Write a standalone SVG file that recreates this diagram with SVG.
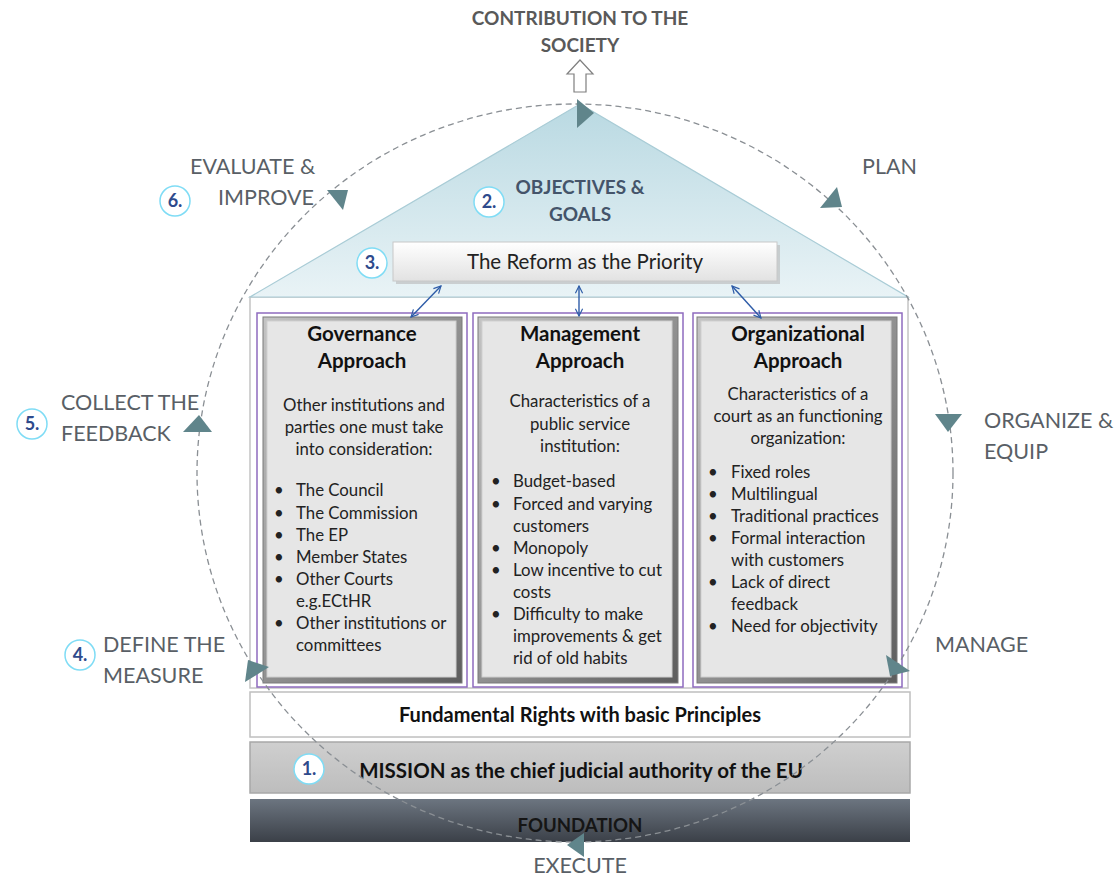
<svg xmlns="http://www.w3.org/2000/svg" width="1118" height="877" viewBox="0 0 1118 877">
<defs>
<linearGradient id="roofG" x1="0" y1="0" x2="0" y2="1"><stop offset="0" stop-color="#b9d9e2"/><stop offset="1" stop-color="#e9f3f6"/></linearGradient>
<linearGradient id="reformG" x1="0" y1="0" x2="0" y2="1"><stop offset="0" stop-color="#ffffff"/><stop offset="1" stop-color="#e2e2e2"/></linearGradient>
<linearGradient id="missionG" x1="0" y1="0" x2="0" y2="1"><stop offset="0" stop-color="#cfcfcf"/><stop offset="1" stop-color="#bdbdbd"/></linearGradient>
<linearGradient id="foundG" x1="0" y1="0" x2="0" y2="1"><stop offset="0" stop-color="#6c7580"/><stop offset="1" stop-color="#3b4048"/></linearGradient>
<linearGradient id="bevelG" x1="0" y1="0" x2="1" y2="1"><stop offset="0" stop-color="#c4c4c4"/><stop offset="1" stop-color="#5e5e5e"/></linearGradient>
<marker id="ah" viewBox="0 0 10 10" refX="9" refY="5" markerWidth="9" markerHeight="9" orient="auto-start-reverse" markerUnits="userSpaceOnUse"><path d="M1,1 L9,5 L1,9" fill="none" stroke="#2e5ca8" stroke-width="1.3"/></marker>
<style>
.lbl{font-family:Lato,"Open Sans",sans-serif;font-size:21.5px;fill:#595f66}
.ttl{font-family:Lato,"Open Sans",sans-serif;font-size:19px;font-weight:bold;fill:#44546a;text-anchor:middle}
.ctit{font-family:Lato,"Open Sans",sans-serif;font-size:20.5px;font-weight:bold;fill:#111;text-anchor:middle}
.cdesc{font-family:Lato,"Open Sans",sans-serif;font-size:16.8px;fill:#222;text-anchor:middle}
.bul{font-family:Lato,"Open Sans",sans-serif;font-size:16.8px;fill:#222}
.bar{font-family:Lato,"Open Sans",sans-serif;font-size:20.5px;font-weight:bold;fill:#111;text-anchor:middle}
.num{font-family:Lato,"Open Sans",sans-serif;font-size:18px;font-weight:bold;fill:#2e4a8c;text-anchor:middle}
.badge{fill:#fff;stroke:#7fdcf5;stroke-width:1.5}
.purple{fill:none;stroke:#8e6bbf;stroke-width:1.5}
.bevel{fill:url(#bevelG);stroke:#7a7a7a;stroke-width:1}
.inner{fill:#e6e6e6;stroke:#cfcfcf;stroke-width:1}
.tri{fill:#60858b}
.conn{stroke:#2e5ca8;stroke-width:1.4;fill:none;marker-start:url(#ah);marker-end:url(#ah)}
</style>
</defs>
<rect width="1118" height="877" fill="#fff"/>

<g id="contribution">
<text class="ttl" x="580" y="25" style="fill:#595959">CONTRIBUTION TO THE</text>
<text class="ttl" x="580" y="52" style="fill:#595959">SOCIETY</text>
<polygon points="580,60 593,74 586,74 586,92 574,92 574,74 567,74" fill="#fff" stroke="#7f7f7f" stroke-width="1.2"/>
</g>

<g id="building">
<rect x="250" y="297" width="658" height="391" fill="#fff" stroke="#c4c4c4" stroke-width="1.5"/>
</g>

<g id="roof">
<polygon points="580,104 250,297 908,297" fill="url(#roofG)" stroke="#a9ccd6" stroke-width="1.2"/>
<text class="ttl" x="580" y="194">OBJECTIVES &amp;</text>
<text class="ttl" x="580" y="221">GOALS</text>
<circle class="badge" cx="489" cy="202" r="15"/>
<text class="num" x="489" y="208">2.</text>
</g>

<g id="reform">
<rect x="396" y="245" width="384" height="39" fill="#b8b8b8" opacity="0.6"/>
<rect x="393" y="242" width="384" height="39" fill="url(#reformG)" stroke="#c8c8c8" stroke-width="1"/>
<text x="585" y="269" style="font-family:Lato,'Open Sans',sans-serif;font-size:20.5px;fill:#222;text-anchor:middle">The Reform as the Priority</text>
<circle class="badge" cx="372" cy="263" r="15"/>
<text class="num" x="372" y="269">3.</text>
</g>

<g id="governance">
<rect class="purple" x="257" y="313" width="210" height="374"/>
<rect class="bevel" x="263" y="317" width="199" height="366"/>
<rect class="inner" x="267" y="321" width="189" height="356"/>
<text class="ctit" x="362" y="341">Governance</text>
<text class="ctit" x="362" y="368">Approach</text>
<text class="cdesc" x="364" y="411">Other institutions and</text>
<text class="cdesc" x="364" y="433">parties one must take</text>
<text class="cdesc" x="364" y="455">into consideration:</text>
<g class="bul">
<text x="274" y="496">•</text><text x="296" y="496">The Council</text>
<text x="274" y="519">•</text><text x="296" y="519">The Commission</text>
<text x="274" y="541">•</text><text x="296" y="541">The EP</text>
<text x="274" y="563">•</text><text x="296" y="563">Member States</text>
<text x="274" y="585">•</text><text x="296" y="585">Other Courts</text>
<text x="296" y="607">e.g.ECtHR</text>
<text x="274" y="629">•</text><text x="296" y="629">Other institutions or</text>
<text x="296" y="651">committees</text>
</g>
</g>

<g id="management">
<rect class="purple" x="473" y="313" width="210" height="374"/>
<rect class="bevel" x="478" y="317" width="200" height="366"/>
<rect class="inner" x="482" y="321" width="190" height="356"/>
<text class="ctit" x="580" y="341">Management</text>
<text class="ctit" x="580" y="368">Approach</text>
<text class="cdesc" x="580" y="407">Characteristics of a</text>
<text class="cdesc" x="580" y="430">public service</text>
<text class="cdesc" x="580" y="452">institution:</text>
<g class="bul">
<text x="491" y="487">•</text><text x="513" y="487">Budget-based</text>
<text x="491" y="510">•</text><text x="513" y="510">Forced and varying</text>
<text x="513" y="532">customers</text>
<text x="491" y="554">•</text><text x="513" y="554">Monopoly</text>
<text x="491" y="576">•</text><text x="513" y="576">Low incentive to cut</text>
<text x="513" y="598">costs</text>
<text x="491" y="620">•</text><text x="513" y="620">Difficulty to make</text>
<text x="513" y="642">improvements &amp; get</text>
<text x="513" y="664">rid of old habits</text>
</g>
</g>

<g id="organizational">
<rect class="purple" x="693" y="313" width="209" height="374"/>
<rect class="bevel" x="697" y="317" width="200" height="366"/>
<rect class="inner" x="701" y="321" width="190" height="356"/>
<text class="ctit" x="798" y="341">Organizational</text>
<text class="ctit" x="798" y="368">Approach</text>
<text class="cdesc" x="798" y="400">Characteristics of a</text>
<text class="cdesc" x="798" y="422">court as an functioning</text>
<text class="cdesc" x="798" y="444">organization:</text>
<g class="bul">
<text x="708" y="478">•</text><text x="731" y="478">Fixed roles</text>
<text x="708" y="500">•</text><text x="731" y="500">Multilingual</text>
<text x="708" y="522">•</text><text x="731" y="522">Traditional practices</text>
<text x="708" y="544">•</text><text x="731" y="544">Formal interaction</text>
<text x="731" y="566">with customers</text>
<text x="708" y="588">•</text><text x="731" y="588">Lack of direct</text>
<text x="731" y="610">feedback</text>
<text x="708" y="632">•</text><text x="731" y="632">Need for objectivity</text>
</g>
</g>

<g id="fundamental">
<rect x="250" y="692" width="660" height="45" fill="#fff" stroke="#bfbfbf" stroke-width="1.5"/>
<text class="bar" x="580" y="722" style="font-size:20px">Fundamental Rights with basic Principles</text>
</g>

<g id="mission">
<rect x="250" y="742" width="660" height="51" fill="url(#missionG)" stroke="#a8a8a8" stroke-width="1.5"/>
<text class="bar" x="581" y="778">MISSION as the chief judicial authority of the EU</text>
<circle class="badge" cx="309" cy="769" r="15"/>
<text class="num" x="309" y="775">1.</text>
</g>

<g id="foundation">
<rect x="250" y="799" width="660" height="43" fill="url(#foundG)"/>
<text class="bar" x="580" y="832" style="fill:#151515;font-size:18.6px">FOUNDATION</text>
</g>

<g id="cycle-labels">
<text class="lbl" x="190" y="174">EVALUATE &amp;</text>
<text class="lbl" x="218" y="205">IMPROVE</text>
<circle class="badge" cx="175" cy="201" r="15"/>
<text class="num" x="175" y="207">6.</text>
<text class="lbl" x="862" y="174">PLAN</text>
<text class="lbl" x="61" y="410">COLLECT THE</text>
<text class="lbl" x="61" y="441">FEEDBACK</text>
<circle class="badge" cx="32" cy="424" r="15"/>
<text class="num" x="32" y="430">5.</text>
<text class="lbl" x="984" y="428">ORGANIZE &amp;</text>
<text class="lbl" x="984" y="459">EQUIP</text>
<text class="lbl" x="103" y="652">DEFINE THE</text>
<text class="lbl" x="103" y="683">MEASURE</text>
<circle class="badge" cx="80" cy="655" r="15"/>
<text class="num" x="80" y="661">4.</text>
<text class="lbl" x="935" y="652">MANAGE</text>
<text class="lbl" x="580" y="873" text-anchor="middle">EXECUTE</text>
</g>

<g id="connectors">
<ellipse cx="575" cy="473" rx="378" ry="369" fill="none" stroke="#8a8f94" stroke-width="1.3" stroke-dasharray="6 4"/>
<polygon class="tri" points="577,99 594,113 577,128"/>
<polygon class="tri" points="820,208 837,187 842,207"/>
<polygon class="tri" points="935,414 962,414 948,432"/>
<polygon class="tri" points="886,655 910,671 890,676"/>
<polygon class="tri" points="584,833 584,857 567,845"/>
<polygon class="tri" points="248,660 269,667 245,682"/>
<polygon class="tri" points="183,432 212,432 199,415"/>
<polygon class="tri" points="327,190 348,190 343,210"/>
<line class="conn" x1="441" y1="286" x2="411" y2="317"/>
<line class="conn" x1="579" y1="286" x2="579" y2="316"/>
<line class="conn" x1="732" y1="286" x2="761" y2="318"/>
</g>
</svg>
